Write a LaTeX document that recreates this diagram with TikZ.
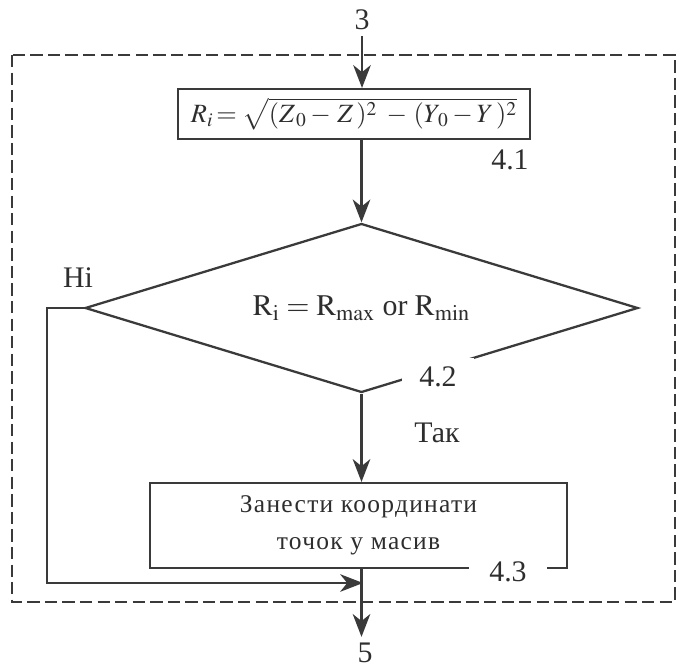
\documentclass[tikz,border=0pt]{standalone}
\usepackage{mathptmx}
\usepackage{fontspec}
\setmainfont{Liberation Serif}
\usetikzlibrary{shapes.geometric, arrows.meta}
\definecolor{inkline}{HTML}{3A3A3A}
\definecolor{inktext}{HTML}{2E2E2E}

\begin{document}
\begin{tikzpicture}[x=0.02cm, y=-0.02cm,
    procbox/.style={rectangle, draw=inkline, line width=1.2pt, inner sep=0pt, align=center},
    decision/.style={diamond, aspect=3.27, draw=inkline, line width=1.3pt, inner sep=0pt},
    flow/.style={draw=inkline, line width=1.2pt, -{Stealth[length=13pt, width=10pt, inset=4pt]}},
    tag/.style={fill=white, inner sep=1pt},
    every node/.style={font=\fontsize{17}{20}\selectfont, text=inktext}
]
\useasboundingbox (0,0) rectangle (682,669);

% Dashed frame of block 4
\draw[inkline, line width=1.1pt, dash pattern=on 7pt off 3pt] (12,55) rectangle (675,602);

% Entry
\node (start) at (362, 20) {3};

% 4.1 distance
\node[procbox, minimum width=7.04cm, minimum height=1cm, font=\fontsize{15}{18}\selectfont] (calc) at (354, 114)
    {$R_i\!=\sqrt{(Z_{\,0}-\,Z\,)^{2}\;-\,(Y_{\,0}-Y\,)^{2}}$};
\node (lab41) at (510, 160) {4.1};

% 4.2 check
\node[decision, minimum width=11.06cm, minimum height=3.38cm] (check) at (361.5, 308)
    {$\mathrm{R_i = R_{max}}$ or $\mathrm{R_{min}}$};
\node[tag, minimum width=1.45cm, minimum height=0.75cm] (lab42) at (438, 377) {4.2};
\node (no) at (78, 278) {Hi};
\node (yes) at (437, 433) {Так};

% 4.3 store
\node[procbox, minimum width=8.34cm, minimum height=1.7cm,
      font=\fontsize{14.5}{18}\selectfont\addfontfeatures{LetterSpace=5}] (store) at (358.5, 525.5)
    {Занести координати\\[3pt]точок у масив};
\node[tag, minimum width=1.55cm, minimum height=0.45cm] (lab43) at (508, 572) {4.3};

% Exit
\node (finish) at (365, 653) {5};
\coordinate (join) at (363, 583);

% Connectors
\draw[flow] (start.south) -- (start.south |- calc.north);
\draw[flow] (check.north |- calc.south) -- (check.north);
\draw[flow] (check.south) -- (check.south |- store.north);
\draw[flow] (check.west) -- ++(-37,0) |- (join);
\draw[flow] (check.south |- store.south) -- (check.south |- finish.north);

\end{tikzpicture}
\end{document}
